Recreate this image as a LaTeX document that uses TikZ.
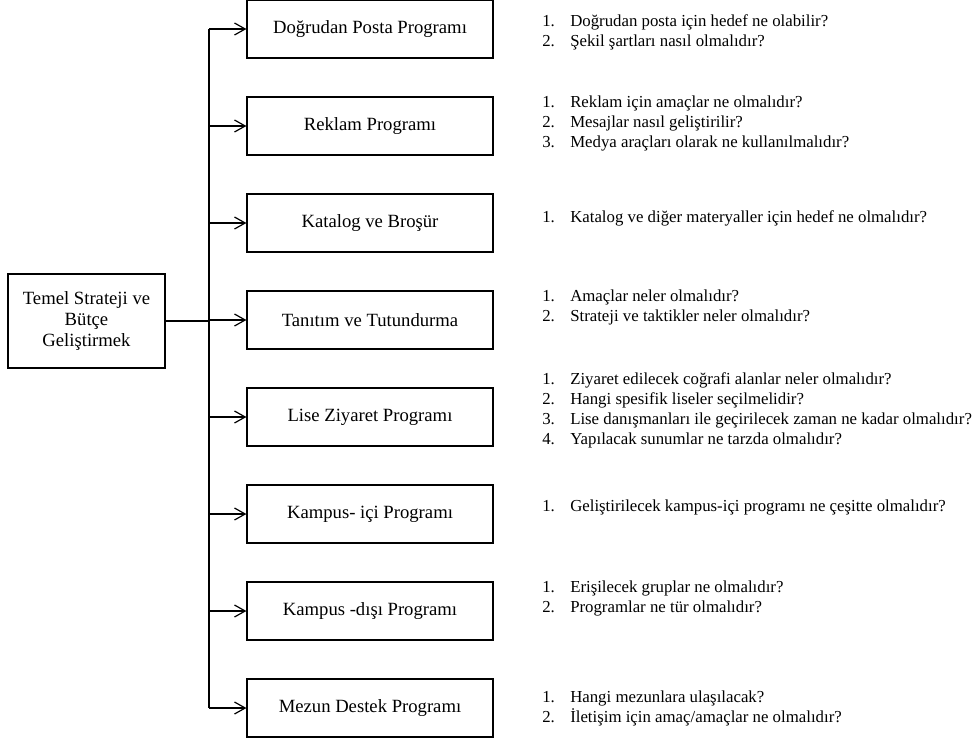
\documentclass[tikz,border=0pt]{standalone}
\usepackage{fontspec}
\setmainfont{Liberation Serif}
\usetikzlibrary{arrows.meta}
\tikzset{
  prog/.style={draw, line width=0.9pt, minimum width=184.5pt, minimum height=43.5pt,
    font=\fontsize{14}{16}\selectfont},
  root/.style={draw, line width=0.9pt, minimum width=117.75pt, minimum height=70.5pt,
    align=center, font=\fontsize{14}{16}\selectfont},
  quest/.style={anchor=west, inner sep=0pt, align=left, font=\fontsize{12.6}{15}\selectfont},
  branch/.style={-{Straight Barb[length=8pt,width=9pt]}, line width=0.9pt}
}
\newcommand{\qnum}[1]{\makebox[21pt][l]{#1.}}

\begin{document}
\begin{tikzpicture}[x=0.75pt,y=-0.75pt]
  \useasboundingbox (0,0) rectangle (976,740);
  % main box and the trunk line
  \node[root] (main) at (86.5,321) {Temel Strateji ve\\Bütçe\\Geliştirmek};
  \coordinate (trunk) at (209,0);
  % program boxes
  \foreach \i/\t in {1/Doğrudan Posta Programı, 2/Reklam Programı, 3/Katalog ve Broşür,
      4/Tanıtım ve Tutundurma, 5/Lise Ziyaret Programı, 6/Kampus- içi Programı,
      7/Kampus -dışı Programı, 8/Mezun Destek Programı}
    \node[prog] (b\i) at (370,{29+97*(\i-1)}) {\t};
  \draw[line width=0.9pt] (main.east) -- (main.east -| trunk);
  \draw[line width=0.9pt] (b1.west -| trunk) -- (b8.west -| trunk);
  \foreach \i in {1,...,8}
    \draw[branch] (b\i.west -| trunk) -- (b\i.west);
  % questions
  \node[quest] (q1) at (542,32) {\qnum{1}Doğrudan posta için hedef ne olabilir?\\
    \qnum{2}Şekil şartları nasıl olmalıdır?};
  \node[quest] (q2) at (542,123) {\qnum{1}Reklam için amaçlar ne olmalıdır?\\
    \qnum{2}Mesajlar nasıl geliştirilir?\\
    \qnum{3}Medya araçları olarak ne kullanılmalıdır?};
  \node[quest] (q3) at (542,218) {\qnum{1}Katalog ve diğer materyaller için hedef ne olmalıdır?};
  \node[quest] (q4) at (542,307) {\qnum{1}Amaçlar neler olmalıdır?\\
    \qnum{2}Strateji ve taktikler neler olmalıdır?};
  \node[quest] (q5) at (542,410) {\qnum{1}Ziyaret edilecek coğrafi alanlar neler olmalıdır?\\
    \qnum{2}Hangi spesifik liseler seçilmelidir?\\
    \qnum{3}Lise danışmanları ile geçirilecek zaman ne kadar olmalıdır?\\
    \qnum{4}Yapılacak sunumlar ne tarzda olmalıdır?};
  \node[quest] (q6) at (542,507) {\qnum{1}Geliştirilecek kampus-içi programı ne çeşitte olmalıdır?};
  \node[quest] (q7) at (542,598) {\qnum{1}Erişilecek gruplar ne olmalıdır?\\
    \qnum{2}Programlar ne tür olmalıdır?};
  \node[quest] (q8) at (542,708) {\qnum{1}Hangi mezunlara ulaşılacak?\\
    \qnum{2}İletişim için amaç/amaçlar ne olmalıdır?};
\end{tikzpicture}
\end{document}
